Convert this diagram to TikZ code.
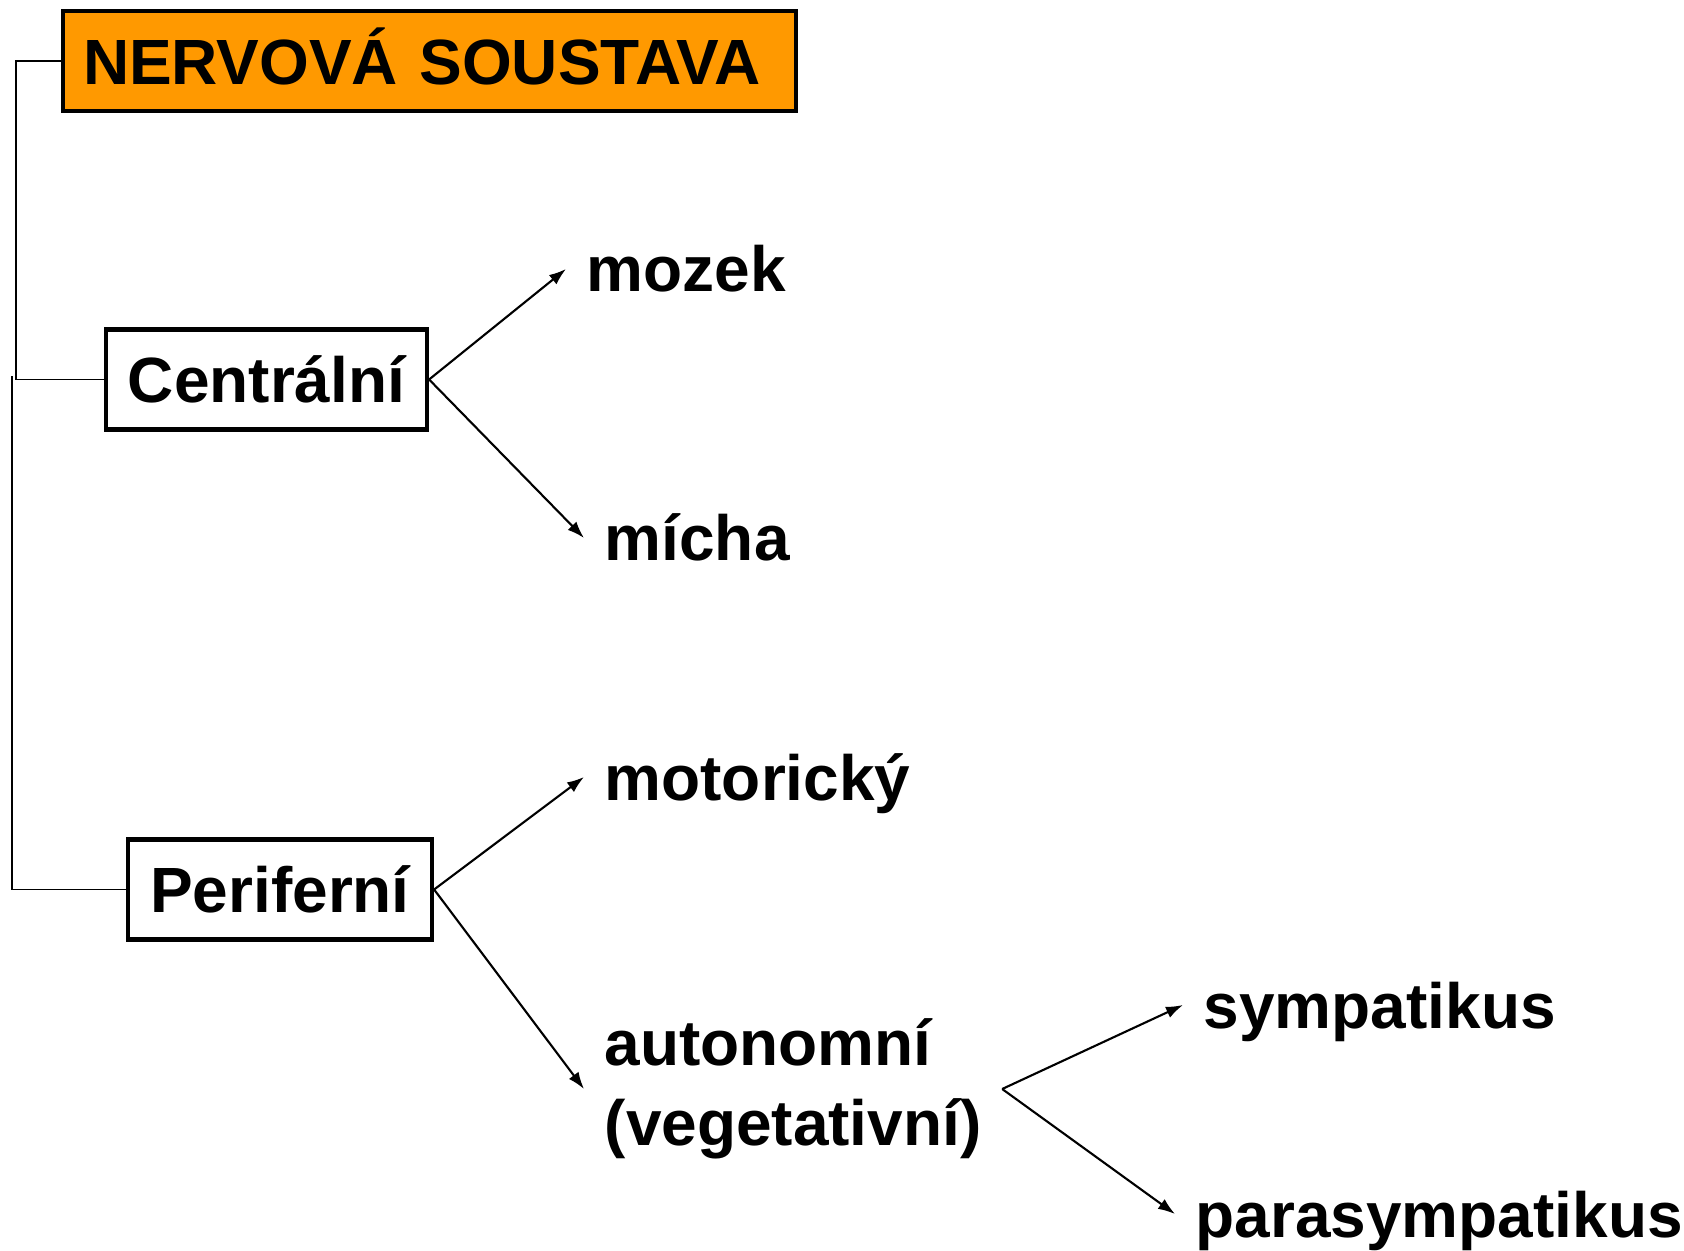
\documentclass[tikz,border=0pt]{standalone}
\usepackage{fontspec}
\setmainfont{Liberation Sans}
\usetikzlibrary{arrows.meta}
\definecolor{nsorange}{RGB}{255,153,0}
\begin{document}
\begin{tikzpicture}[%
% common options for the boxes:
box/.style = {draw, line width=1.2pt, align=center, inner sep=0,
            minimum height=1.0cm, font=\bfseries\fontsize{18.2}{22}\selectfont},
% common options for the free terms:
term/.style = {anchor=base west, inner xsep=0.2cm, inner ysep=0,
            text height=0.46cm, text depth=0cm, font=\bfseries\fontsize{18.2}{22}\selectfont},
link/.style = {line width=0.6pt, -{Latex[length=1.7mm,width=1.2mm]}}]
\useasboundingbox (0,0) rectangle (16.84,-12.51);
\node[box, fill=nsorange, inner xsep=0.2cm, text width=6.93cm, align=left,
      text height=0.47cm, text depth=0cm] (NS) at (4.295,-0.61) {NERVOVÁ SOUSTAVA};
\node[box, minimum width=3.21cm] (CE) at (2.665,-3.795) {Centrální};
\node[box, minimum width=3.04cm] (PE) at (2.80,-8.895) {Periferní};
\node[term] (MO) at (5.66,-2.92) {mozek};
\node[term] (MI) at (5.84,-5.61) {mícha};
\node[term] (MT) at (5.84,-8.00) {motorický};
\node[font=\bfseries\fontsize{18.2}{22.6}\selectfont, align=left, inner xsep=0.2cm, inner ysep=0, anchor=west] (AU) at (5.84,-10.89) {autonomní\\(vegetativní)};
\node[term] (SY) at (11.83,-10.28) {sympatikus};
\node[term] (PA) at (11.75,-12.37) {parasympatikus};
\draw[line width=0.5pt] (NS.west) -- ++(-0.45,0) |- (CE.west);
\draw[line width=0.5pt] ([xshift=-0.92cm,yshift=0.03cm]CE.west) |- (PE.west);
\draw[link] (CE.east) to (MO.west);
\draw[link] (CE.east) to (MI.west);
\draw[link] (PE.east) to (MT.west);
\draw[link] (PE.east) to (AU.west);
\draw[link] (AU.east) to (SY.west);
\draw[link] (AU.east) to (PA.west);
\end{tikzpicture}
\end{document}
